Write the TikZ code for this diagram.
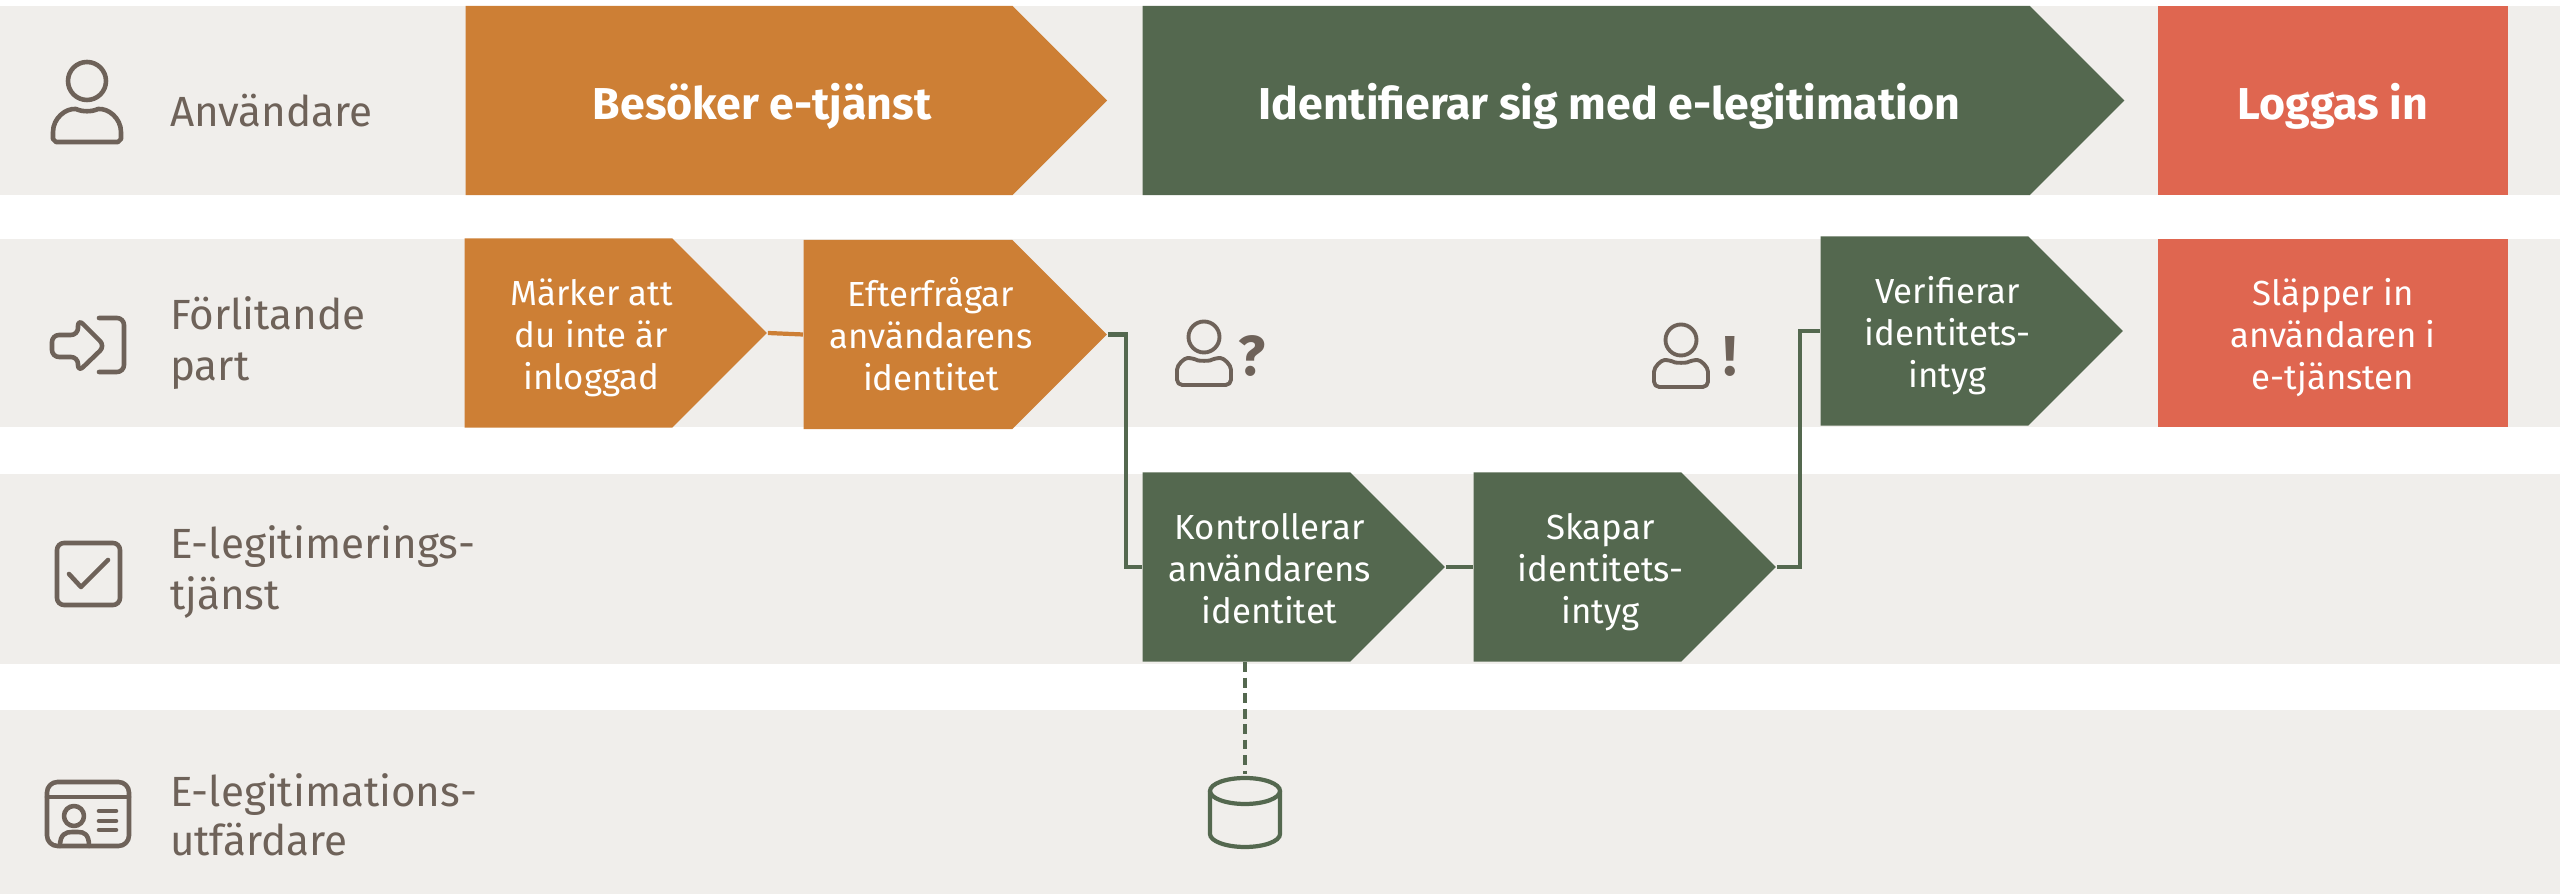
\documentclass[tikz,border=0pt]{standalone}
\usepackage{fontspec}
\setmainfont{Fira Sans}
\usetikzlibrary{calc}
\usetikzlibrary{shapes.symbols}
\definecolor{bandgray}{HTML}{F0EEEB}
\definecolor{orangeC}{HTML}{CD7F35}
\definecolor{greenC}{HTML}{54684F}
\definecolor{redC}{HTML}{DF6650}
\definecolor{iconC}{HTML}{6E6259}
\newcommand{\steptext}[2][0.46cm]{\makebox[0pt]{\hspace*{#1}\raisebox{-0.42em}[0pt][0pt]{\begin{tabular}{@{}c@{}}#2\end{tabular}}}}
\begin{document}
\begin{tikzpicture}[x=0.01cm,y=-0.01cm]
	\tikzstyle{rowlabel} = [anchor=west, inner sep=0pt, align=left, text=iconC, font=\fontsize{12}{14.5}\selectfont]
	\tikzstyle{big} = [signal, signal from=nowhere, signal to=east, signal pointer angle=90, anchor=west, inner sep=0pt, minimum height=1.89cm, text=white, font=\fontsize{12.7}{14.5}\selectfont\bfseries]
	\tikzstyle{small} = [big, font=\fontsize{9.9}{11.9}\selectfont]
	\tikzstyle{icon} = [draw=iconC, line width=1.3pt, line join=round, line cap=round]
	\tikzstyle{flow} = [draw=greenC, line width=1.2pt]
	
	\useasboundingbox (0,0) rectangle (2560,895);
	\foreach \ytop/\ybot in {6/195, 239/427, 474/664, 710/894}
		\fill [bandgray] (0,\ytop) rectangle (2560,\ybot);
	
	\node [big, fill=orangeC, minimum width=6.41cm] (besok) at (465,100.5) {\steptext{Besöker e-tjänst}};
	\node [big, fill=greenC, minimum width=9.81cm] (ident) at (1142,100.5) {\steptext{Identifierar sig med e-legitimation}};
	\node [rectangle, fill=redC, inner sep=0pt, minimum width=3.5cm, minimum height=1.89cm, text=white, font=\fontsize{12.7}{14.5}\selectfont\bfseries] (logga) at (2333,100.5) {\steptext[0pt]{Loggas in}};
	
	\node [small, fill=orangeC, minimum width=3.02cm] (marker) at (464,333) {\steptext{Märker att \\ du inte är \\ inloggad}};
	\node [small, fill=orangeC, minimum width=3.03cm] (efter) at (803,334.5) {\steptext{Efterfrågar \\ användarens \\ identitet}};
	\node [small, fill=greenC, minimum width=3.02cm] (verif) at (1820,331) {\steptext{Verifierar \\ identitets- \\ intyg}};
	\node [rectangle, fill=redC, inner sep=0pt, minimum width=3.5cm, minimum height=1.88cm, text=white, font=\fontsize{9.9}{11.9}\selectfont] (slapp) at (2333,333) {\steptext[0pt]{Släpper in \\ användaren i \\ e-tjänsten}};
	
	\node [small, fill=greenC, minimum width=3.02cm] (kontr) at (1142,567) {\steptext{Kontrollerar \\ användarens \\ identitet}};
	\node [small, fill=greenC, minimum width=3.02cm] (skapa) at (1473,567) {\steptext{Skapar \\ identitets- \\ intyg}};
	
	\draw [draw=orangeC, line width=1.2pt] (marker.east) to (efter.west);
	\draw [flow] (efter.east) to ($(efter.east)+(18,0)$) |- (kontr.west);
	\draw [flow] (kontr.east) to (skapa.west);
	\draw [flow] (skapa.east) to ($(skapa.east)+(23,0)$) |- (verif.west);
	
	% database
	\coordinate (db) at (1245,774);
	\draw [flow, dash pattern=on 2.8pt off 1.6pt] (db |- kontr.south) to (db);
	\draw [flow] (1245,791) ellipse [x radius=35, y radius=13];
	\draw [flow] (1210,791) -- (1210,834) arc [start angle=180, end angle=0, x radius=35, y radius=13] -- (1280,791);
	
	% row labels
	\node [rowlabel] (lanv) at (169.5,111) {Användare};
	\node [rowlabel] (lfor) at (169.5,343) {Förlitande \\ part};
	\node [rowlabel] (ltjan) at (169.5,572) {E-legitimerings- \\ tjänst};
	\node [rowlabel] (lutf) at (169.5,815) {E-legitimations- \\[-0.02cm] utfärdare};
	
	% icons
	\draw [icon] (87,81) circle (19);
	\draw [icon] (53,139) -- (53,132) .. controls (53,118) and (66,108) .. (76,109) .. controls (82,112) and (92,112) .. (98,109) .. controls (108,108) and (121,118) .. (121,132) -- (121,139) -- (118,142) -- (56,142) -- cycle;
	
	\draw [icon, rounded corners=2pt] (99,318) -- (124,318) -- (124,372) -- (99,372);
	\draw [icon, rounded corners=2pt] (52,335) -- (78,335) -- (78,319) -- (105,346) -- (78,372) -- (78,357) -- (52,357) -- cycle;
	
	\draw [icon, rounded corners=2pt] (57,543) rectangle (120,605);
	\draw [icon] (69,574) -- (81,587) -- (108,560);
	
	\draw [icon, rounded corners=3pt] (47,782) rectangle (129,846);
	\draw [icon] (47,797) -- (129,797);
	\draw [icon] (74,816) circle (10);
	\draw [icon] (60,846) .. controls (60,834) and (66,832) .. (72,832) -- (78,832) .. controls (84,832) and (89,834) .. (89,846);
	\foreach \yl in {811,821,830}
		\draw [icon] (99,\yl) -- (116,\yl);
	
	% small persons
	\draw [icon, line width=1.1pt] (1204,337) circle (15.5);
	\draw [icon, line width=1.1pt, rounded corners=1.5pt] (1177,385) -- (1177,375) .. controls (1177,365) and (1184,358) .. (1193,358) .. controls (1199,361) and (1209,361) .. (1215,358) .. controls (1224,358) and (1231,365) .. (1231,375) -- (1231,385) -- cycle;
	\node [inner sep=0pt, text=iconC, font=\fontsize{16}{16}\selectfont\bfseries] (fraga) at (1252,356) {?};
	
	\draw [icon, line width=1.1pt] (1681,340) circle (15.5);
	\draw [icon, line width=1.1pt, rounded corners=1.5pt] (1654,387) -- (1654,377) .. controls (1654,367) and (1661,360) .. (1670,360) .. controls (1676,363) and (1686,363) .. (1692,360) .. controls (1701,360) and (1708,367) .. (1708,377) -- (1708,387) -- cycle;
	\node [inner sep=0pt, text=iconC, font=\fontsize{16}{16}\selectfont\bfseries] (utrop) at (1730,356) {!};
\end{tikzpicture}
\end{document}
